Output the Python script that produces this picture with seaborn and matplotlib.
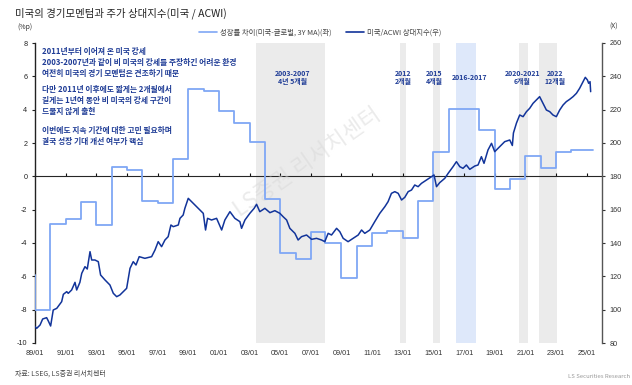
import numpy as np
import pandas as pd
import matplotlib
matplotlib.use("Agg")
import matplotlib.pyplot as plt
from matplotlib.lines import Line2D
import seaborn as sns

# ---------------- data ----------------
gap_years = [1989.0, 1989.02, 1990.0, 1991.0, 1992.0, 1993.0, 1994.0, 1995.0, 1996.0, 1997.0,
             1998.0, 1999.0, 2000.0, 2001.0, 2002.0, 2003.0, 2004.0, 2005.0, 2006.0, 2007.0,
             2007.9, 2009.0, 2010.0, 2011.0, 2012.0, 2013.0, 2014.0, 2015.0, 2016.0, 2017.0,
             2018.0, 2019.0, 2020.0, 2021.0, 2022.0, 2023.0, 2024.0, 2025.4]
gap_values = [-5.9, -8.0, -2.84, -2.54, -1.52, -2.94, 0.56, 0.38, -1.50, -1.58,
              1.06, 5.22, 5.12, 3.92, 3.22, 2.06, -1.36, -4.60, -4.98, -3.36,
              -3.98, -6.08, -4.16, -3.40, -3.30, -3.72, -1.50, 1.48, 4.02, 4.06,
              2.78, -0.74, -0.18, 1.20, 0.50, 1.46, 1.60, 1.60]

rel_years = [1989.0, 1989.11, 1989.33, 1989.50, 1989.76, 1989.87, 1990.02, 1990.19, 1990.42, 1990.74,
             1990.85, 1991.07, 1991.17, 1991.39, 1991.61, 1991.72, 1991.93, 1992.05, 1992.26, 1992.41,
             1992.59, 1992.70, 1992.91, 1993.13, 1993.28, 1993.57, 1993.89, 1994.11, 1994.33, 1994.54,
             1994.76, 1994.98, 1995.20, 1995.41, 1995.59, 1995.80, 1996.17, 1996.61, 1996.83, 1997.04,
             1997.26, 1997.48, 1997.69, 1997.87, 1998.02, 1998.35, 1998.46, 1998.67, 1998.78, 1999.00,
             1999.22, 1999.43, 1999.76, 1999.98, 2000.13, 2000.26, 2000.52, 2000.85, 2001.18, 2001.39,
             2001.72, 2002.04, 2002.37, 2002.48, 2002.70, 2003.02, 2003.30, 2003.46, 2003.67, 2004.00,
             2004.33, 2004.65, 2004.98, 2005.19, 2005.42, 2005.63, 2005.96, 2006.17, 2006.39, 2006.72,
             2007.05, 2007.37, 2007.70, 2007.91, 2008.13, 2008.35, 2008.68, 2008.89, 2009.11, 2009.43,
             2009.76, 2010.09, 2010.31, 2010.52, 2010.85, 2011.17, 2011.50, 2011.83, 2012.04, 2012.26,
             2012.48, 2012.70, 2012.92, 2013.13, 2013.35, 2013.57, 2013.78, 2014.00, 2014.22, 2014.55,
             2014.87, 2015.04, 2015.20, 2015.41, 2015.74, 2015.96, 2016.28, 2016.50, 2016.72, 2016.93,
             2017.15, 2017.37, 2017.70, 2017.91, 2018.13, 2018.30, 2018.56, 2018.79, 2019.00, 2019.33,
             2019.65, 2019.98, 2020.15, 2020.22, 2020.42, 2020.63, 2020.85, 2021.07, 2021.28, 2021.50,
             2021.72, 2021.93, 2022.15, 2022.37, 2022.59, 2022.80, 2023.02, 2023.24, 2023.46, 2023.67,
             2023.89, 2024.11, 2024.33, 2024.54, 2024.76, 2024.91, 2025.05, 2025.13, 2025.22, 2025.26]
rel_values = [89.8, 88.8, 90.8, 94.4, 95.2, 93.2, 90.2, 99.8, 100.8, 104.8,
              109.2, 110.8, 109.8, 111.8, 116.4, 111.8, 116.4, 121.8, 125.8, 124.4,
              134.8, 129.8, 129.8, 128.8, 120.8, 117.8, 114.8, 109.8, 107.8, 108.8,
              110.8, 112.8, 124.8, 128.8, 126.8, 131.8, 130.8, 131.8, 135.8, 140.8,
              137.8, 141.8, 143.8, 150.8, 149.8, 150.8, 154.8, 156.8, 160.8, 166.8,
              164.8, 162.8, 159.8, 157.8, 147.8, 154.8, 153.8, 154.8, 147.8, 153.8,
              158.8, 154.8, 152.8, 148.8, 153.8, 157.8, 160.8, 163.2, 158.8, 160.8,
              158.2, 159.4, 157.8, 155.8, 153.8, 148.8, 145.8, 141.8, 143.8, 144.8,
              142.2, 142.8, 141.8, 140.8, 145.8, 144.8, 148.8, 146.8, 142.8, 140.8,
              142.8, 144.8, 147.8, 145.8, 147.8, 152.8, 157.8, 161.8, 164.8, 169.8,
              170.8, 169.8, 165.8, 167.4, 170.8, 171.8, 174.8, 173.8, 175.8, 177.8,
              179.8, 180.8, 173.8, 176.2, 178.8, 181.8, 185.8, 188.8, 185.8, 184.8,
              186.8, 184.2, 186.2, 186.8, 191.8, 187.8, 195.8, 199.8, 194.8, 197.8,
              200.8, 201.8, 198.5, 206.0, 212.0, 216.8, 215.8, 218.8, 220.8, 223.8,
              225.8, 227.8, 223.8, 219.8, 218.8, 216.8, 215.8, 219.8, 222.8, 224.8,
              226.2, 227.8, 229.8, 232.8, 236.8, 239.4, 237.8, 235.8, 236.8, 230.8]

tick_years = list(range(1989, 2026, 2))
tick_labels = ["89/01", "91/01", "93/01", "95/01", "97/01", "99/01", "01/01", "03/01", "05/01",
               "07/01", "09/01", "11/01", "13/01", "15/01", "17/01", "19/01", "21/01", "23/01", "25/01"]
left_ticks = [-10, -8, -6, -4, -2, 0, 2, 4, 6, 8]
right_ticks = [80, 100, 120, 140, 160, 180, 200, 220, 240, 260]

period_labels = ["2003-2007\n4년 5개월", "2012\n2개월", "2015\n4개월", "2016-2017",
                 "2020-2021\n6개월", "2022\n12개월"]
period_start = [2003.4, 2012.8, 2015.0, 2016.5, 2020.6, 2021.9]
period_end = [2007.9, 2013.2, 2015.4, 2017.8, 2021.2, 2023.05]
period_is_blue = [False, False, False, True, False, False]
period_label_x = [2005.8, 2013.0, 2015.05, 2017.35, 2020.8, 2022.95]

series_gap_name = "성장률 차이(미국-글로벌, 3Y MA)(좌)"
series_rel_name = "미국/ACWI 상대지수(우)"
title_text = "미국의 경기모멘텀과 주가 상대지수(미국 / ACWI)"
note1 = "2011년부터 이어져 온 미국 강세\n2003-2007년과 같이 비 미국의 강세를 주장하긴 어려운 환경\n여전히 미국의 경기 모멘텀은 견조하기 때문"
note2 = "다만 2011년 이후에도 짧게는 2개월에서\n길게는 1년여 동안 비 미국의 강세 구간이\n드물지 않게 출현"
note3 = "이번에도 지속 기간에 대한 고민 필요하며\n결국 성장 기대 개선 여부가 핵심"

# ---------------- style ----------------
sns.set_style("white")
plt.rcParams['font.family'] = ['Noto Sans CJK KR', 'DejaVu Sans']
plt.rcParams['axes.unicode_minus'] = False

LIGHT = "#7FA7F5"
DARK = "#12349A"
NAVY = "#1F3C96"
GRAY_SPAN = "#EBEBEB"
BLUE_SPAN = "#DEE8FA"

fig = plt.figure(figsize=(6.32, 3.85), dpi=100)
ax = fig.add_axes([35/632, 1-343/385, 567/632, 300/385])
ax2 = ax.twinx()

xlim = (1989.0, 2026.0)
ylim = (-10, 8)
ylim2 = (80, 260)

for s, e, b in zip(period_start, period_end, period_is_blue):
    ax.axvspan(s, e, color=BLUE_SPAN if b else GRAY_SPAN, lw=0, zorder=0)

df_gap = pd.DataFrame({"year": gap_years, "gap": gap_values})
df_rel = pd.DataFrame({"year": rel_years, "rel": rel_values})

sns.lineplot(data=df_gap, x="year", y="gap", ax=ax, color=LIGHT, lw=1.3,
             drawstyle="steps-post", estimator=None, sort=False, legend=False, zorder=3)
sns.lineplot(data=df_rel, x="year", y="rel", ax=ax2, color=DARK, lw=1.1,
             estimator=None, sort=False, legend=False, zorder=4)

ax.set_xlim(*xlim)
ax.set_ylim(*ylim)
ax2.set_ylim(*ylim2)
ax.set_xlabel("")
ax.set_ylabel("")
ax2.set_xlabel("")
ax2.set_ylabel("")

# left axis
for sp in ["top", "right", "bottom"]:
    ax.spines[sp].set_visible(False)
ax.spines["left"].set_color("#222222")
ax.spines["left"].set_linewidth(1.0)
ax.set_yticks(left_ticks)
ax.set_yticklabels([str(t) for t in left_ticks], fontsize=5.2, color="#333333",
                   family=["Liberation Sans", "DejaVu Sans"])
ax.tick_params(axis="y", direction="out", length=2.5, width=0.8, colors="#222222", pad=3)
ax.set_xticks(tick_years)
ax.set_xticklabels(tick_labels, fontsize=5.2, color="#333333",
                   family=["Liberation Sans", "DejaVu Sans"])
ax.tick_params(axis="x", length=0, pad=5)

# zero line axis with ticks
zero_frac = (0 - ylim[0]) / (ylim[1] - ylim[0])
sec = ax.secondary_xaxis(zero_frac)
sec.set_xticks(tick_years)
sec.set_xticklabels([])
sec.tick_params(axis="x", direction="out", length=2.5, width=0.8, colors="#111111")
sec.spines["bottom"].set_color("#111111")
sec.spines["bottom"].set_linewidth(1.0)

# right axis
for sp in ["top", "left", "bottom"]:
    ax2.spines[sp].set_visible(False)
ax2.spines["right"].set_color("#555555")
ax2.spines["right"].set_linewidth(1.0)
ax2.set_yticks(right_ticks)
ax2.set_yticklabels([str(t) for t in right_ticks], fontsize=5.2, color="#333333",
                    family=["Liberation Sans", "DejaVu Sans"])
ax2.tick_params(axis="y", direction="out", length=2.5, width=0.8, colors="#333333", pad=3)
ax2.grid(False)
ax.grid(False)

# period labels
for xl, lab in zip(period_label_x, period_labels):
    ax.text(xl, 5.95, lab, ha="center", va="center", fontsize=5.0,
            fontweight="bold", color=NAVY, linespacing=1.2, zorder=6)

# notes
for txt, yv in [(note1, 6.84), (note2, 4.56), (note3, 2.4)]:
    ax.text(1989.45, yv, txt, ha="left", va="center", fontsize=5.6, fontweight="bold",
            color=NAVY, linespacing=1.3, zorder=6)

# watermark
ax.text(0.481, 0.603, "LS증권 리서치센터", transform=ax.transAxes, rotation=35,
        ha="center", va="center", fontsize=16, color="#D8D8D8", alpha=0.5, zorder=1)

# title and units
fig.text(15/632, 1-13/385, title_text, ha="left", va="center", fontsize=7.5,
         color="#222222", fontweight="medium")
fig.text(17/632, 1-27/385, "(%p)", ha="left", va="center", fontsize=5, color="#333333")
fig.text(609/632, 1-27/385, "(X)", ha="left", va="center", fontsize=5, color="#333333")

# legend
handles = [Line2D([0], [0], color=LIGHT, lw=1.2), Line2D([0], [0], color=DARK, lw=1.2)]
fig.legend(handles, [series_gap_name, series_rel_name], loc="center",
           bbox_to_anchor=(320/632, 1-33/385), ncol=2, frameon=False, fontsize=5.3,
           handlelength=2.4, handletextpad=0.4, columnspacing=2.0, labelcolor="#444444")

# footer
fig.text(15/632, 1-374/385, "자료: LSEG, LS증권 리서치센터", ha="left", va="center",
         fontsize=5, color="#444444")
fig.text(630/632, 1-376/385, "LS Securities Research", ha="right", va="center",
         fontsize=4.3, color="#999999")

fig.savefig("out.png", dpi=100)
